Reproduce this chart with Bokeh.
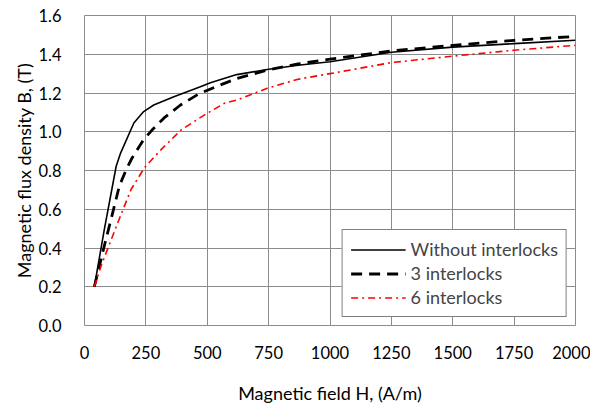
from bokeh.plotting import figure
from bokeh.models import Legend, LegendItem, FixedTicker, NumeralTickFormatter, Range1d
from bokeh.embed import file_html
from bokeh.resources import INLINE

H_without = [40, 81, 129, 147, 201, 241, 282, 364, 472, 513, 620, 744, 870, 1000, 1250, 1500, 1750, 2000]
B_without = [0.2, 0.497, 0.822, 0.89, 1.045, 1.104, 1.138, 1.181, 1.232, 1.253, 1.295, 1.321, 1.343, 1.361, 1.41, 1.437, 1.455, 1.472]

H_3 = [40, 81, 115, 142, 170, 194, 241, 276, 323, 391, 465, 550, 621, 744, 870, 1000, 1250, 1500, 1750, 2000]
B_3 = [0.2, 0.412, 0.583, 0.72, 0.805, 0.865, 0.96, 1.01, 1.07, 1.138, 1.195, 1.24, 1.275, 1.318, 1.35, 1.375, 1.417, 1.446, 1.472, 1.492]

H_6 = [40, 68, 136, 190, 244, 312, 394, 489, 570, 621, 744, 866, 1000, 1250, 1500, 1750, 2000]
B_6 = [0.2, 0.309, 0.532, 0.703, 0.814, 0.908, 1.01, 1.087, 1.147, 1.164, 1.224, 1.27, 1.30, 1.357, 1.39, 1.421, 1.446]

x_ticks = [0, 250, 500, 750, 1000, 1250, 1500, 1750, 2000]
y_ticks = [0.0, 0.2, 0.4, 0.6, 0.8, 1.0, 1.2, 1.4, 1.6]

FONT = "Lato"
GRID = "#8c8c8c"

p = figure(width=590, height=406, output_backend="svg", toolbar_location=None,
           x_range=Range1d(0, 2000), y_range=Range1d(0, 1.6),
           min_border_left=84, min_border_right=15, min_border_top=15, min_border_bottom=80)

p.outline_line_color = GRID
p.outline_line_width = 1
for g in (p.xgrid, p.ygrid):
    g.grid_line_color = GRID
    g.grid_line_width = 1
p.xgrid.ticker = FixedTicker(ticks=x_ticks)
p.ygrid.ticker = FixedTicker(ticks=y_ticks)
p.xaxis.ticker = FixedTicker(ticks=x_ticks)
p.yaxis.ticker = FixedTicker(ticks=y_ticks)
p.yaxis.formatter = NumeralTickFormatter(format="0.0")

for ax in (p.xaxis[0], p.yaxis[0]):
    ax.axis_line_color = None
    ax.major_tick_line_color = None
    ax.minor_tick_line_color = None
    ax.major_label_text_font = FONT
    ax.major_label_text_font_size = "16.5px"
    ax.major_label_text_color = "black"
    ax.axis_label_text_font = FONT
    ax.axis_label_text_font_size = "18px"
    ax.axis_label_text_font_style = "normal"
    ax.axis_label_text_color = "black"

p.xaxis.axis_label = "Magnetic field H, (A/m)"
p.yaxis.axis_label = "Magnetic flux density B, (T)"
p.xaxis.major_label_standoff = 14
p.xaxis.axis_label_standoff = 20
p.yaxis.major_label_standoff = 17
p.yaxis.axis_label_standoff = 0

r1 = p.line(H_without, B_without, line_color="black", line_width=1.6, line_join="round")
r2 = p.line(H_3, B_3, line_color="black", line_width=2.8, line_dash="11 7", line_join="round")
r3 = p.line(H_6, B_6, line_color="red", line_width=1.6, line_dash="7 4 2 4", line_join="round")

legend = Legend(items=[
    LegendItem(label="Without interlocks", renderers=[r1]),
    LegendItem(label="3 interlocks", renderers=[r2]),
    LegendItem(label="6 interlocks", renderers=[r3]),
], location="bottom_right")
legend.border_line_color = "black"
legend.border_line_width = 1
legend.background_fill_alpha = 1
legend.label_text_font = FONT
legend.label_text_font_size = "18px"
legend.glyph_width = 55
legend.glyph_height = 19
legend.label_height = 19
legend.spacing = 2
legend.padding = 8
legend.margin = 8
legend.label_standoff = 5
p.add_layout(legend)

open("out.html", "w").write(file_html(p, INLINE))
